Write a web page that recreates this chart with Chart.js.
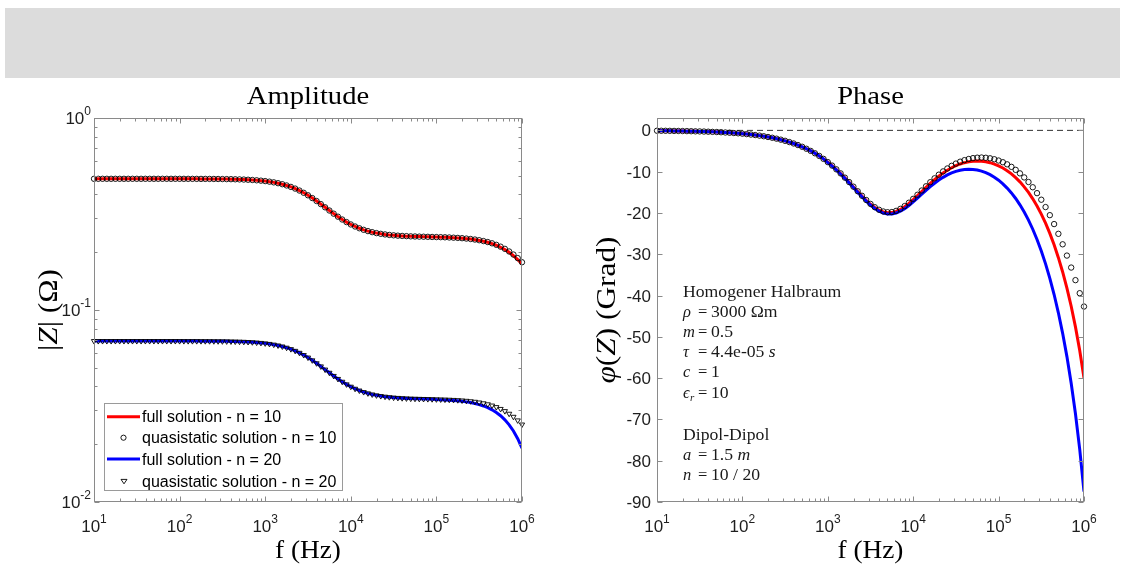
<!DOCTYPE html>
<html><head><meta charset="utf-8">
<script src="https://cdn.jsdelivr.net/npm/chart.js@4.4.1/dist/chart.umd.min.js"></script>
<style>
html,body{margin:0;padding:0;background:#fff;width:1123px;height:565px;overflow:hidden}
#band{position:absolute;left:5px;top:8px;width:1115px;height:70px;background:#dcdcdc}
#c1{position:absolute;left:0;top:80px}
#c2{position:absolute;left:560px;top:80px}
</style></head><body>
<div id="band"></div>
<canvas id="c1" width="560" height="485"></canvas>
<canvas id="c2" width="563" height="485"></canvas>
<script>
// ---------- data ----------
const freq = [
1e1,1.122e1,1.259e1,1.413e1,1.585e1,1.778e1,1.995e1,2.239e1,2.512e1,2.818e1,3.162e1,3.548e1,3.981e1,4.467e1,5.012e1,5.623e1,6.310e1,7.079e1,7.943e1,8.913e1,
1e2,1.122e2,1.259e2,1.413e2,1.585e2,1.778e2,1.995e2,2.239e2,2.512e2,2.818e2,3.162e2,3.548e2,3.981e2,4.467e2,5.012e2,5.623e2,6.310e2,7.079e2,7.943e2,8.913e2,
1e3,1.122e3,1.259e3,1.413e3,1.585e3,1.778e3,1.995e3,2.239e3,2.512e3,2.818e3,3.162e3,3.548e3,3.981e3,4.467e3,5.012e3,5.623e3,6.310e3,7.079e3,7.943e3,8.913e3,
1e4,1.122e4,1.259e4,1.413e4,1.585e4,1.778e4,1.995e4,2.239e4,2.512e4,2.818e4,3.162e4,3.548e4,3.981e4,4.467e4,5.012e4,5.623e4,6.310e4,7.079e4,7.943e4,8.913e4,
1e5,1.122e5,1.259e5,1.413e5,1.585e5,1.778e5,1.995e5,2.239e5,2.512e5,2.818e5,3.162e5,3.548e5,3.981e5,4.467e5,5.012e5,5.623e5,6.310e5,7.079e5,7.943e5,8.913e5,
1e6];

const amp10Quasi = [
0.4823,0.4823,0.4823,0.4823,0.4823,0.4823,0.4823,0.4823,0.4823,0.4823,
0.4823,0.4823,0.4823,0.4823,0.4823,0.4823,0.4823,0.4823,0.4823,0.4823,
0.4822,0.4821,0.4821,0.4820,0.4819,0.4818,0.4817,0.4816,0.4814,0.4812,
0.4809,0.4805,0.4801,0.4795,0.4788,0.4780,0.4769,0.4755,0.4738,0.4717,
0.4692,0.4660,0.4622,0.4575,0.4520,0.4454,0.4377,0.4289,0.4189,0.4078,
0.3957,0.3828,0.3695,0.3560,0.3426,0.3297,0.3175,0.3062,0.2960,0.2870,
0.2790,0.2722,0.2665,0.2616,0.2576,0.2543,0.2515,0.2493,0.2475,0.2460,
0.2449,0.2439,0.2431,0.2425,0.2419,0.2415,0.2411,0.2408,0.2405,0.2401,
0.2398,0.2395,0.2391,0.2386,0.2380,0.2374,0.2366,0.2355,0.2343,0.2328,
0.2309,0.2286,0.2259,0.2225,0.2185,0.2137,0.2082,0.2017,0.1944,0.1863,0.1773];

const amp10FullTail = [ // from 1e5 Hz upward
0.2398,0.2394,0.2390,0.2385,0.2379,0.2373,0.2364,0.2353,0.2340,0.2324,
0.2304,0.2280,0.2252,0.2216,0.2174,0.2123,0.2065,0.1997,0.1919,0.1833,0.1738];

const amp20Quasi = [
0.06890,0.06890,0.06890,0.06890,0.06890,0.06890,0.06890,0.06890,0.06890,0.06890,
0.06890,0.06890,0.06890,0.06890,0.06890,0.06890,0.06890,0.06890,0.06890,0.06890,
0.06888,0.06887,0.06886,0.06886,0.06885,0.06884,0.06882,0.06880,0.06877,0.06874,
0.06870,0.06865,0.06859,0.06851,0.06841,0.06828,0.06812,0.06793,0.06769,0.06739,
0.06702,0.06657,0.06603,0.06536,0.06457,0.06363,0.06254,0.06127,0.05985,0.05826,
0.05653,0.05469,0.05279,0.05085,0.04894,0.04710,0.04535,0.04374,0.04229,0.04099,
0.03986,0.03889,0.03807,0.03737,0.03680,0.03632,0.03593,0.03562,0.03536,0.03515,
0.03498,0.03484,0.03473,0.03464,0.03456,0.03450,0.03445,0.03440,0.03435,0.03431,
0.03426,0.03421,0.03415,0.03409,0.03401,0.03391,0.03379,0.03365,0.03347,0.03326,
0.03299,0.03266,0.03227,0.03179,0.03121,0.03053,0.02974,0.02882,0.02778,0.02661,0.02533];

const amp20FullTail = [ // from 1e5 Hz upward
0.03418,0.03410,0.03402,0.03392,0.03380,0.03364,0.03346,0.03323,0.03295,0.03260,
0.03217,0.03164,0.03100,0.03021,0.02927,0.02814,0.02680,0.02524,0.02343,0.02137,0.01905];

const phaseQuasi = [
-0.08,-0.09,-0.10,-0.11,-0.13,-0.14,-0.16,-0.18,-0.20,-0.23,
-0.25,-0.28,-0.32,-0.36,-0.40,-0.45,-0.51,-0.57,-0.64,-0.71,
-0.80,-0.90,-1.01,-1.13,-1.27,-1.42,-1.60,-1.79,-2.01,-2.25,
-2.53,-2.83,-3.17,-3.55,-3.97,-4.45,-4.97,-5.55,-6.19,-6.90,
-7.68,-8.52,-9.43,-10.41,-11.44,-12.52,-13.63,-14.74,-15.83,-16.86,
-17.81,-18.60,-19.22,-19.64,-19.82,-19.78,-19.49,-19.00,-18.33,-17.51,
-16.58,-15.59,-14.56,-13.54,-12.55,-11.61,-10.73,-9.93,-9.22,-8.58,
-8.04,-7.58,-7.21,-6.93,-6.72,-6.61,-6.57,-6.63,-6.76,-6.99,
-7.30,-7.71,-8.22,-8.83,-9.56,-10.41,-11.39,-12.50,-13.77,-15.20,
-16.79,-18.57,-20.53,-22.69,-25.05,-27.59,-30.32,-33.22,-36.27,-39.43,-42.66];

const phase10FullTail = [ // from 1e3 Hz upward
-7.71,-8.55,-9.47,-10.45,-11.49,-12.57,-13.69,-14.80,-15.90,-16.93,
-17.89,-18.69,-19.32,-19.75,-19.94,-19.91,-19.63,-19.15,-18.50,-17.69,
-16.78,-15.81,-14.80,-13.81,-12.84,-11.93,-11.08,-10.31,-9.64,-9.04,
-8.55,-8.13,-7.82,-7.60,-7.45,-7.41,-7.45,-7.59,-7.82,-8.15,
-8.58,-9.11,-9.76,-10.53,-11.43,-12.47,-13.67,-15.02,-16.57,-18.31,
-20.27,-22.48,-24.95,-27.72,-30.83,-34.29,-38.19,-42.59,-47.59,-53.31,-59.96];

const phase20FullTail = [ // from 1e3 Hz upward
-7.80,-8.65,-9.57,-10.57,-11.61,-12.71,-13.84,-14.97,-16.08,-17.13,
-18.11,-18.93,-19.58,-20.04,-20.25,-20.26,-20.01,-19.57,-18.96,-18.20,
-17.33,-16.42,-15.47,-14.53,-13.64,-12.80,-12.04,-11.37,-10.79,-10.31,
-9.93,-9.66,-9.49,-9.43,-9.46,-9.61,-9.86,-10.24,-10.72,-11.34,
-12.07,-12.94,-13.97,-15.14,-16.49,-18.03,-19.77,-21.73,-23.94,-26.42,
-29.20,-32.33,-35.82,-39.75,-44.18,-49.15,-54.79,-61.23,-68.64,-77.27,-87.46];

const xTickValues = [1e1,1e2,1e3,1e4,1e5,1e6];
const xTickExps = ['1','2','3','4','5','6'];
const ampTickValues = [1,0.1,0.01];
const ampTickExps = ['0','-1','-2'];
const ampMinorTicks = [0.02,0.03,0.04,0.05,0.06,0.07,0.08,0.09,0.2,0.3,0.4,0.5,0.6,0.7,0.8,0.9];
const phaseTickValues = [0,-10,-20,-30,-40,-50,-60,-70,-80,-90];
const zeroLine = [0,0];
const zeroLineX = [1e1,1e6];

const legendLabels = ['full solution - n = 10','quasistatic solution - n = 10','full solution - n = 20','quasistatic solution - n = 20'];

// ---------- assembly ----------
const amp10Full = amp10Quasi.slice(0,80).concat(amp10FullTail);
const amp20Full = amp20Quasi.slice(0,80).concat(amp20FullTail);
const phase10Full = phaseQuasi.slice(0,40).concat(phase10FullTail);
const phase20Full = phaseQuasi.slice(0,40).concat(phase20FullTail);
const pts = ys => ys.map((y,i)=>({x:freq[i], y}));

const SANS = '"Liberation Sans", Arial, Helvetica, sans-serif';
const SERIF = '"Liberation Serif", "Times New Roman", serif';
const AXC = '#8a8a8a', TXT = '#1e1e1e';
const RED = '#ff0000', BLUE = '#0000ff';

const xMinor = [];
for (let d=1e1; d<1e6; d*=10) for (let m=2; m<=9; m++) xMinor.push(m*d);

function drawPow(ctx, exp, x, baseY, align){
  ctx.font = '17px '+SANS; const w1 = ctx.measureText('10').width;
  ctx.font = '12px '+SANS; const w2 = ctx.measureText(exp).width;
  const x0 = align==='center' ? x-(w1+w2)/2 : x-(w1+w2);
  ctx.textAlign='left'; ctx.textBaseline='alphabetic';
  ctx.font = '17px '+SANS; ctx.fillText('10', x0, baseY);
  ctx.font = '12px '+SANS; ctx.fillText(exp, x0+w1, baseY-9);
}

// rich text: parts [text, font]; sx = horizontal stretch (LaTeX-like wide serif)
function drawRich(ctx, parts, x, y, align, sx){
  sx = sx || 1;
  let w = 0;
  parts.forEach(p=>{ctx.font=p[1]; w+=ctx.measureText(p[0]).width;});
  w *= sx;
  const start = align==='center' ? x-w/2 : x;
  ctx.save();
  ctx.translate(start, y); ctx.scale(sx,1);
  ctx.textAlign='left';
  let cx = 0;
  parts.forEach(p=>{ctx.font=p[1]; ctx.fillText(p[0], cx, 0); cx+=ctx.measureText(p[0]).width;});
  ctx.restore();
}

function frame(chart, yMajor, yMinor){
  const {ctx, chartArea:a, scales:{x,y}} = chart;
  ctx.save();
  ctx.strokeStyle = AXC; ctx.lineWidth = 1;
  const L=Math.round(a.left)+0.5, R=Math.round(a.right)-0.5, T=Math.round(a.top)+0.5, B=Math.round(a.bottom)-0.5;
  ctx.beginPath();
  const vt=(px,len)=>{const p=Math.round(px)+0.5; ctx.moveTo(p,B); ctx.lineTo(p,B-len); ctx.moveTo(p,T); ctx.lineTo(p,T+len);};
  const ht=(py,len)=>{const p=Math.round(py)+0.5; ctx.moveTo(L,p); ctx.lineTo(L+len,p); ctx.moveTo(R,p); ctx.lineTo(R-len,p);};
  xTickValues.forEach(v=>vt(x.getPixelForValue(v),5));
  xMinor.forEach(v=>vt(x.getPixelForValue(v),3));
  yMajor.forEach(v=>ht(y.getPixelForValue(v),5));
  yMinor.forEach(v=>ht(y.getPixelForValue(v),3));
  ctx.stroke();
  ctx.strokeRect(L,T,R-L,B-T);
  ctx.fillStyle = TXT;
  xTickValues.forEach((v,i)=>drawPow(ctx, xTickExps[i], x.getPixelForValue(v), a.bottom+30, 'center'));
  ctx.fillStyle = '#000'; ctx.textBaseline='alphabetic';
  drawRich(ctx, [['f (Hz)','26px '+SERIF]], (a.left+a.right)/2, a.bottom+56, 'center', 1.05);
  ctx.restore();
}

const ampPlugin = {
  id:'ampDecor',
  afterDatasetsDraw(chart){
    const {ctx, chartArea:a, scales:{y}} = chart;
    frame(chart, ampTickValues, ampMinorTicks);
    ctx.save();
    ctx.fillStyle = TXT;
    ampTickValues.forEach((v,i)=>drawPow(ctx, ampTickExps[i], 91, y.getPixelForValue(v)+6, 'right'));
    ctx.fillStyle='#000'; ctx.textBaseline='alphabetic';
    drawRich(ctx, [['Amplitude','26px '+SERIF]], (a.left+a.right)/2, 24, 'center', 1.1);
    ctx.save();
    ctx.translate(50, (a.top+a.bottom)/2); ctx.rotate(-Math.PI/2);
    ctx.textBaseline='middle';
    drawRich(ctx, [['|','28px '+SERIF],['Z','italic 28px '+SERIF],['| (\u03A9)','28px '+SERIF]], 0, 0, 'center', 1.12);
    ctx.restore();
    // legend
    ctx.fillStyle='#fff'; ctx.fillRect(104,323,239,88);
    ctx.strokeStyle='#9a9a9a'; ctx.lineWidth=1; ctx.strokeRect(104.5,323.5,238,87);
    const rows=[336.7,357.7,379,401];
    ctx.lineWidth=3;
    ctx.strokeStyle=RED; ctx.beginPath(); ctx.moveTo(107,rows[0]); ctx.lineTo(140,rows[0]); ctx.stroke();
    ctx.strokeStyle=BLUE; ctx.beginPath(); ctx.moveTo(107,rows[2]); ctx.lineTo(140,rows[2]); ctx.stroke();
    ctx.lineWidth=0.9; ctx.strokeStyle='#000';
    ctx.beginPath(); ctx.arc(123.5,rows[1],2.6,0,Math.PI*2); ctx.stroke();
    ctx.beginPath(); ctx.moveTo(121,rows[3]-1.6); ctx.lineTo(127,rows[3]-1.6); ctx.lineTo(124,rows[3]+2.8); ctx.closePath(); ctx.stroke();
    ctx.fillStyle='#000'; ctx.font='16px '+SANS; ctx.textAlign='left'; ctx.textBaseline='alphabetic';
    legendLabels.forEach((t,i)=>ctx.fillText(t,142,rows[i]+5.5));
    ctx.restore();
  }
};

const phasePlugin = {
  id:'phaseDecor',
  afterDatasetsDraw(chart){
    const {ctx, chartArea:a, scales:{y}} = chart;
    frame(chart, phaseTickValues, []);
    ctx.save();
    ctx.fillStyle = TXT; ctx.font='17px '+SANS; ctx.textAlign='right'; ctx.textBaseline='alphabetic';
    phaseTickValues.forEach(v=>ctx.fillText(String(v), 91, y.getPixelForValue(v)+6));
    ctx.fillStyle='#000';
    drawRich(ctx, [['Phase','26px '+SERIF]], (a.left+a.right)/2, 24, 'center', 1.1);
    ctx.save();
    ctx.translate(48, (a.top+a.bottom)/2); ctx.rotate(-Math.PI/2);
    ctx.textBaseline='middle';
    drawRich(ctx, [['\u03C6','italic 28px '+SERIF],['(','28px '+SERIF],['Z','italic 28px '+SERIF],[') (Grad)','28px '+SERIF]], 0, 0, 'center', 1.12);
    ctx.restore();
    // annotation
    const F='16.5px '+SERIF, FI='italic 16.5px '+SERIF, FS='italic 11px '+SERIF;
    ctx.fillStyle='#1a1a1a'; ctx.textBaseline='alphabetic'; ctx.textAlign='left';
    const xs=123, xe=138, xv=151, SX=1.07;
    drawRich(ctx, [['Homogener Halbraum',F]], xs, 217, 'left', SX);
    const line=(sym,vals,yy)=>{
      drawRich(ctx, sym, xs, yy, 'left', 1);
      drawRich(ctx, [['=',F]], xe, yy, 'left', 1);
      drawRich(ctx, vals, xv, yy, 'left', SX);
    };
    line([['\u03C1',FI]], [['3000 \u03A9m',F]], 237);
    line([['m',FI]], [['0.5',F]], 257);
    line([['\u03C4',FI]], [['4.4e-05 ',F],['s',FI]], 277);
    line([['c',FI]], [['1',F]], 297);
    ctx.font=FI; ctx.fillText('\u03F5',xs,318); ctx.font=FS; ctx.fillText('r',xs+7,321);
    drawRich(ctx, [['=',F]], xe, 318, 'left', 1);
    drawRich(ctx, [['10',F]], xv, 318, 'left', SX);
    drawRich(ctx, [['Dipol-Dipol',F]], xs, 360, 'left', SX);
    line([['a',FI]], [['1.5 ',F],['m',FI]], 380);
    line([['n',FI]], [['10 / 20',F]], 400);
    ctx.restore();
  }
};

const baseOpts = (yType, yMin, yMax, yWidth, padRight) => ({
  responsive:false, animation:false, devicePixelRatio:1,
  layout:{padding:{left:0,right:padRight,top:38,bottom:0}},
  plugins:{legend:{display:false}, tooltip:{enabled:false}, title:{display:false}},
  elements:{line:{tension:0}},
  scales:{
    x:{type:'logarithmic', min:10, max:1e6, grid:{display:false}, border:{display:false}, ticks:{display:false},
       afterFit(s){s.height=63;}},
    y:{type:yType, min:yMin, max:yMax, grid:{display:false}, border:{display:false}, ticks:{display:false},
       afterFit(s){s.width=yWidth;}}
  }
});

const lineDs = (data, color, order) => ({data, borderColor:color, borderWidth:3, pointRadius:0, fill:false, order});
const markDs = (data, style, order) => ({data, showLine:false, pointStyle:style, rotation: style==='triangle'?180:0,
  pointRadius: style==='triangle'?3.0:2.7, pointBorderColor:'#000', pointBackgroundColor:'rgba(0,0,0,0)',
  pointBorderWidth:0.9, borderColor:'#000', order, clip:6});

new Chart(document.getElementById('c1'), {
  type:'line',
  data:{datasets:[
    lineDs(pts(amp10Full), RED, 4),
    markDs(pts(amp10Quasi), 'circle', 3),
    lineDs(pts(amp20Full), BLUE, 2),
    markDs(pts(amp20Quasi), 'triangle', 1)
  ]},
  options: baseOpts('logarithmic', 0.01, 1, 94, 38),
  plugins:[ampPlugin]
});

new Chart(document.getElementById('c2'), {
  type:'line',
  data:{datasets:[
    {data: zeroLineX.map((x,i)=>({x, y:zeroLine[i]})), borderColor:'#333', borderWidth:1, borderDash:[6,4], pointRadius:0, order:9},
    lineDs(pts(phase10Full), RED, 4),
    lineDs(pts(phase20Full), BLUE, 3),
    markDs(pts(phaseQuasi), 'circle', 1)
  ]},
  options: baseOpts('linear', -90, 3, 97, 39),
  plugins:[phasePlugin]
});
</script>
</body></html>
